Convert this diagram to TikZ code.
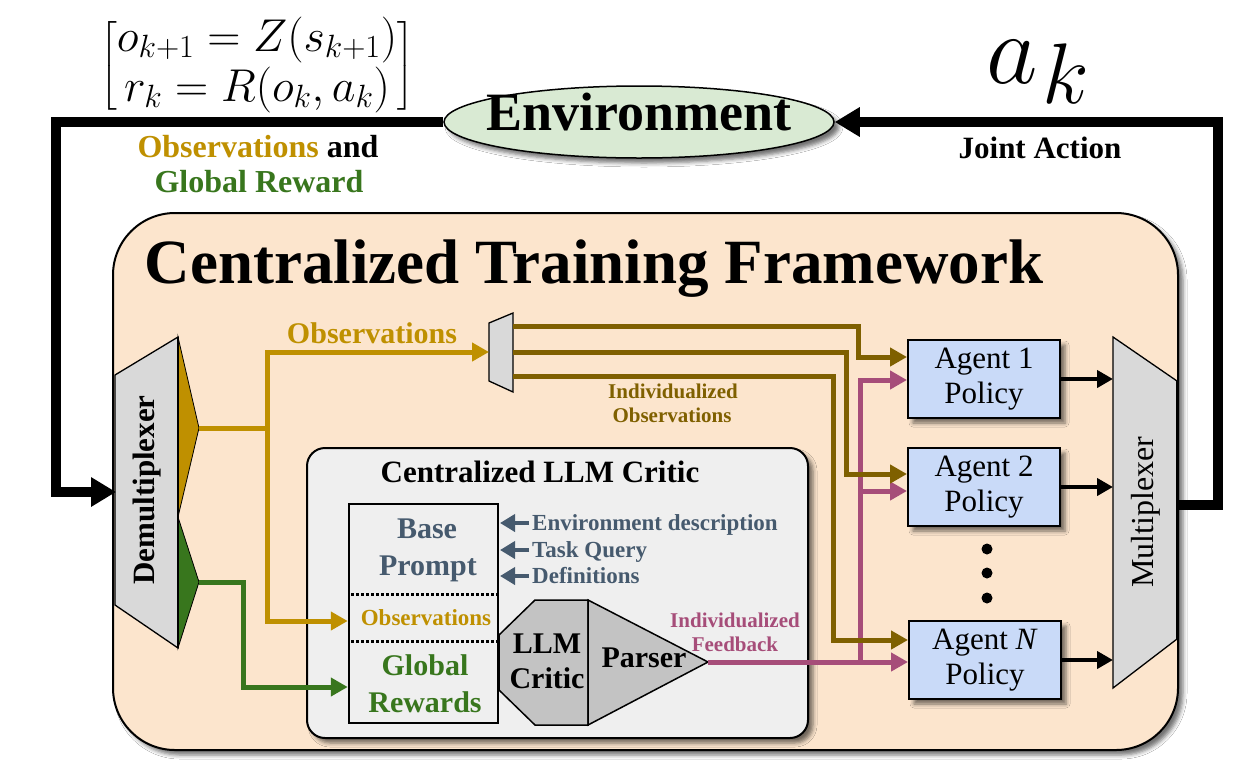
\RequirePackage{fix-cm}
\documentclass[tikz,border=0pt]{standalone}
\usepackage{fontspec}
\setmainfont{Liberation Serif}
\usepackage{amsmath}
\usetikzlibrary{shapes.geometric,shadows.blur,arrows.meta}

\definecolor{peach}{HTML}{FCE5CD}
\definecolor{gold}{HTML}{BF9000}
\definecolor{brownc}{HTML}{7F6000}
\definecolor{dgreen}{HTML}{38761D}
\definecolor{pinkf}{HTML}{A64D79}
\definecolor{slate}{HTML}{465A6E}
\definecolor{agentblue}{HTML}{C9DAF8}
\definecolor{muxgray}{HTML}{D9D9D9}
\definecolor{critgray}{HTML}{C3C3C3}
\definecolor{boxgray}{HTML}{EFEFEF}
\definecolor{envgreen}{HTML}{D9EAD3}

\newcommand{\fz}[2]{\fontsize{#1}{#2}\selectfont}

\tikzset{
  shadowstyle/.style={blur shadow={shadow xshift=5pt, shadow yshift=-5pt, shadow blur radius=4pt, shadow opacity=55}},
  loopline/.style={line width=10pt},
  bigtip/.style={-{Triangle[length=25pt,width=28pt]}},
  colline/.style={line width=5pt},
  midtip/.style={-{Triangle[length=17pt,width=18pt]}},
  txt/.style={inner sep=0pt, anchor=base},
  muxshape/.style={draw=black, line width=1.3pt, fill=muxgray},
  agent/.style={draw=black, line width=2pt, fill=agentblue, minimum width=152pt, minimum height=78pt, inner sep=0pt, align=center, font=\fz{31}{35}, shadowstyle},
  dotc/.style={circle, fill=black, inner sep=0pt, minimum size=11pt},
}

\begin{document}
\begin{tikzpicture}[x=1pt,y=-1pt]
\useasboundingbox[fill=white] (0,0) rectangle (1250,780);

% ---------- framework box ----------
\node[draw, line width=2pt, fill=peach, rounded corners=62pt, minimum width=1065pt, minimum height=537pt, inner sep=0pt, shadowstyle] (frame) at (645.5,481.5) {};
\node[txt, font=\fz{63}{68}\bfseries] (title) at (594,283) {Centralized Training Framework};

% ---------- environment ----------
\node[ellipse, draw, line width=1.5pt, fill=envgreen, minimum width=390pt, minimum height=72pt, inner sep=0pt, shadowstyle] (env) at (639,122) {};
\node[txt, font=\fz{54}{58}\bfseries] (envlbl) at (639,130) {Environment};

% ---------- top labels ----------
\node[font=\fz{46}{50}, inner sep=0pt] (eqn) at (257,66) {$\delimiterfactor=850\delimitershortfall=14pt\begin{bmatrix} o_{k+1} = Z(s_{k+1}) \\ r_k = R(o_k, a_k) \end{bmatrix}$};
\node[txt, font=\fz{32}{34}\bfseries] (obslbl) at (258,157) {\textcolor{gold}{Observations} and};
\node[txt, font=\fz{32}{34}\bfseries, text=dgreen] (rewlbl) at (259,192) {Global Reward};
\node[txt, font=\fz{31}{34}\bfseries] (jalbl) at (1040,158) {Joint Action};
\node[txt] (aklbl) at (1038,83) {\fz{100}{100}$a$\hspace{4pt}\raisebox{-20pt}{\fz{86}{86}$k$}};

% ---------- demultiplexer ----------
\draw[muxshape] (115,375) -- (178,337) -- (178,648) -- (115,605) -- cycle;
\draw[fill=gold, line width=0.8pt] (178,337) -- (199,428) -- (178,517) -- cycle;
\draw[fill=dgreen, line width=0.8pt] (178,517) -- (199,582) -- (178,648) -- cycle;
\draw[line width=2.5pt] (178,337) -- (178,648);
\node[rotate=90, font=\fz{31}{34}\bfseries] (demuxlbl) at (147,490) {Demultiplexer};
\coordinate (demuxin) at (116,492);
\coordinate (goldout) at (199,428);
\coordinate (greenout) at (199,582);
\coordinate (gj) at (267,428);

% ---------- multiplexer ----------
\draw[muxshape] (1113,337) -- (1177,381) -- (1177,639) -- (1113,688) -- cycle;
\draw[line width=2.5pt] (1177,381) -- (1177,639);
\node[rotate=90, font=\fz{32}{35}] (muxlbl) at (1146,512) {Multiplexer};
\coordinate (muxl) at (1113,512);
\coordinate (muxout) at (1177,505);

% ---------- loop ----------
\draw[loopline, bigtip] (env.west) -| (56,492) -- (demuxin);
\draw[loopline, bigtip] (muxout) -| (1218,122) -- (env.east);

% ---------- small mux ----------
\draw[muxshape] (489,323) -- (513,313) -- (513,392) -- (489,381) -- cycle;
\coordinate (smuxin) at (489,352);
\coordinate (so1) at (513,326);
\coordinate (so2) at (513,352);
\coordinate (so3) at (513,376);
\node[txt, font=\fz{30}{33}\bfseries, text=gold] (obs2lbl) at (372,343) {Observations};

% ---------- critic ----------
\node[draw, line width=2pt, fill=boxgray, rounded corners=18pt, minimum width=501pt, minimum height=290pt, inner sep=0pt, shadowstyle] (critic) at (557.5,593) {};
\node[txt, font=\fz{31}{34}\bfseries] (crittl) at (540,482) {Centralized LLM Critic};
\node[draw, line width=2.5pt, minimum width=149pt, minimum height=219pt, inner sep=0pt] (prompt) at (423.5,613.5) {};
\draw[line width=3pt, dash pattern=on 2.5pt off 2.5pt] (351,594) -- (497,594);
\draw[line width=3pt, dash pattern=on 2.5pt off 2.5pt] (351,641) -- (497,641);
\node[txt, font=\fz{30}{33}\bfseries, text=slate] (basel) at (427,538) {Base};
\node[txt, font=\fz{30}{33}\bfseries, text=slate] (promptl) at (428,575) {Prompt};
\node[txt, font=\fz{23}{26}\bfseries, text=gold] (obs3l) at (426,625) {Observations};
\node[txt, font=\fz{30}{33}\bfseries, text=dgreen] (globl) at (425,675) {Global};
\node[txt, font=\fz{30}{33}\bfseries, text=dgreen] (rewl) at (425,712) {Rewards};

\node[txt, anchor=base west, font=\fz{23}{26}\bfseries, text=slate] (envdesc) at (532,530) {Environment description};
\node[txt, anchor=base west, font=\fz{23}{26}\bfseries, text=slate] (taskq) at (532,557) {Task Query};
\node[txt, anchor=base west, font=\fz{23}{26}\bfseries, text=slate] (defs) at (532,583) {Definitions};
\foreach \n in {envdesc,taskq,defs}{
  \draw[line width=4.5pt, slate, -{Triangle[length=15pt,width=17pt]}] ([xshift=-3pt,yshift=7pt]\n.base west) -- ([xshift=-32pt,yshift=7pt]\n.base west);
}

\draw[fill=critgray, line width=1.5pt] (535,600) -- (588,600) -- (588,725) -- (535,725) -- (499,690) -- (499,635) -- cycle;
\draw[fill=critgray, line width=1.5pt] (588,600) -- (708,662) -- (588,725) -- cycle;
\coordinate (parserout) at (708,662);
\node[txt, font=\fz{30}{33}\bfseries] (llml) at (547,653) {LLM};
\node[txt, font=\fz{30}{33}\bfseries] (critl) at (547,688) {Critic};
\node[txt, font=\fz{30}{33}\bfseries] (parsl) at (644,667) {Parser};
\node[txt, font=\fz{21}{24}\bfseries, text=pinkf] (indfb1) at (735,627) {Individualized};
\node[txt, font=\fz{21}{24}\bfseries, text=pinkf] (indfb2) at (735,651) {Feedback};

% ---------- agents ----------
\node[agent] (a1) at (984,379) {Agent 1\\Policy};
\node[agent] (a2) at (984,487) {Agent 2\\Policy};
\node[agent] (an) at (985,660) {Agent \textit{N}\\Policy};
\node[dotc] (d1) at (987,549) {};
\node[dotc] (d2) at (987,573) {};
\node[dotc] (d3) at (987,598) {};

\foreach \n in {a1,a2,an}{
  \draw[line width=4pt, -{Triangle[length=16pt,width=17pt]}] (\n.east) -- (\n.east -| muxl);
}

% ---------- coloured flows ----------
\draw[colline, gold] (goldout) -- (gj);
\draw[colline, gold, midtip] (gj) |- (smuxin);
\draw[colline, gold, midtip] (gj) |- ([yshift=-7.5pt]prompt.west);
\draw[colline, dgreen, midtip] (greenout) -- (243,582) |- ([yshift=-73.5pt]prompt.west);

\draw[colline, pinkf, midtip] (parserout) -- ([yshift=-2pt]an.west);
\draw[colline, pinkf, midtip] (860,662) |- ([yshift=-1pt]a1.west);
\draw[colline, pinkf, midtip] (860,491) -- ([yshift=-4pt]a2.west);

\draw[colline, brownc, midtip] (so1) -- (858,326) |- ([yshift=22pt]a1.west);
\draw[colline, brownc, midtip] (so2) -- (846,352) |- ([yshift=13pt]a2.west);
\draw[colline, brownc, midtip] (so3) -- (833,376) |- ([yshift=20pt]an.west);
\node[txt, font=\fz{21}{24}\bfseries, text=brownc] (indob1) at (673,398) {Individualized};
\node[txt, font=\fz{21}{24}\bfseries, text=brownc] (indob2) at (672,422) {Observations};

\end{tikzpicture}
\end{document}
